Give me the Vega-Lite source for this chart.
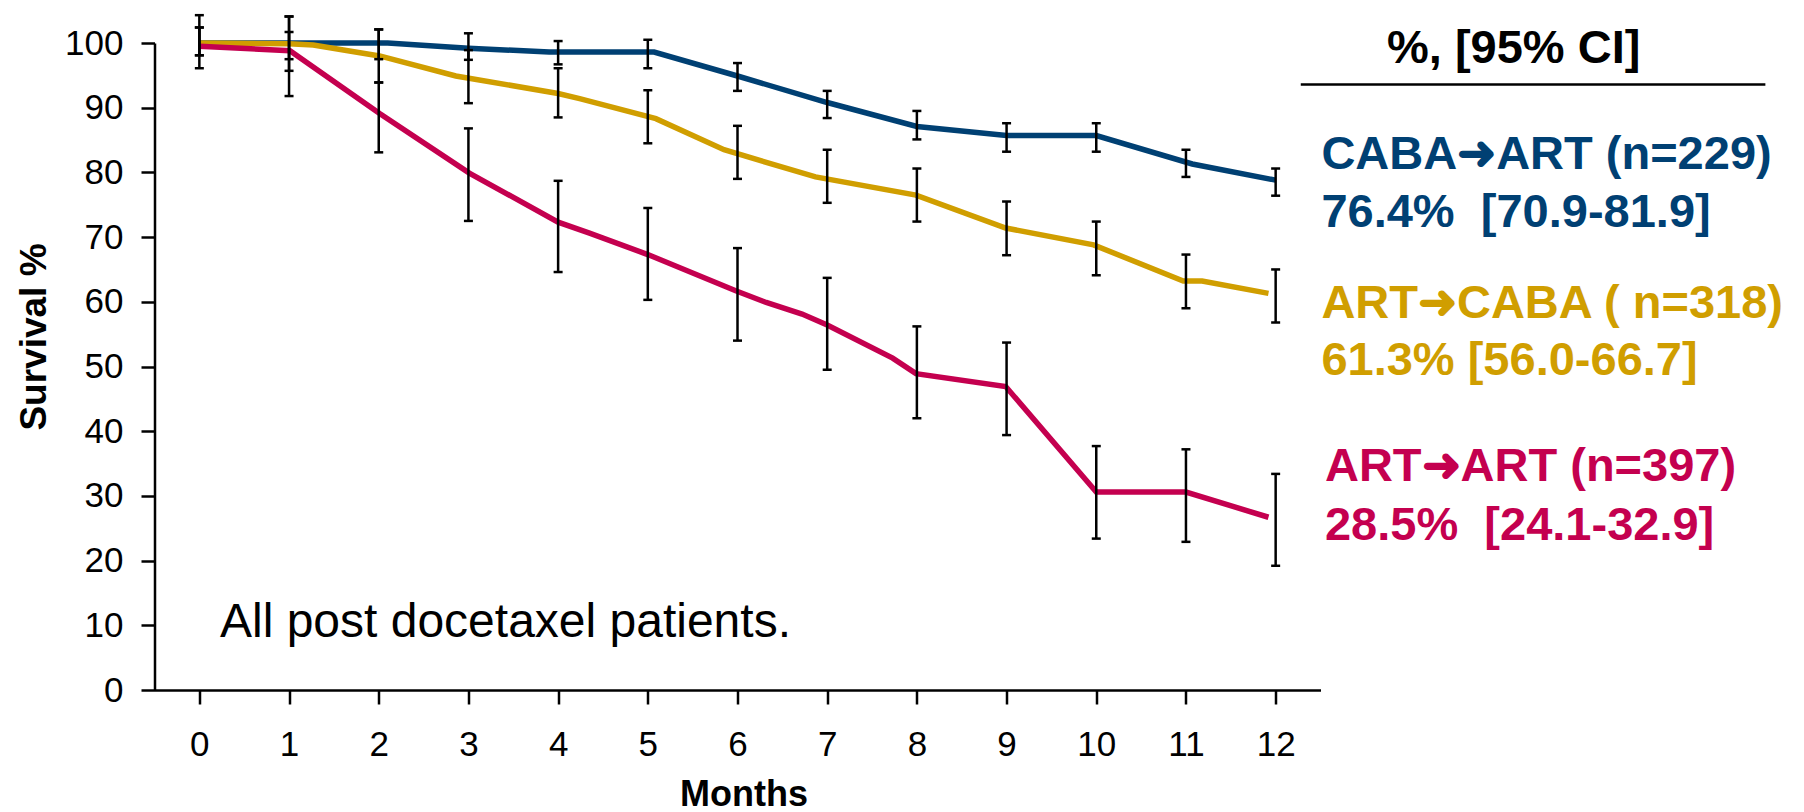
{
  "$schema": "https://vega.github.io/schema/vega-lite/v6.json",
  "width": 1166,
  "height": 647,
  "autosize": {"type": "none"},
  "padding": {"left": 154.5, "top": 43, "right": 483.5, "bottom": 122},
  "background": "white",
  "config": {"view": {"stroke": null}, "font": "Liberation Sans"},
  "datasets": {
    "curves": [
      {"series": "CABA→ART", "month": 0, "pct": 100},
      {"series": "CABA→ART", "month": 1, "pct": 100},
      {"series": "CABA→ART", "month": 2.1, "pct": 100},
      {"series": "CABA→ART", "month": 3, "pct": 99.2},
      {"series": "CABA→ART", "month": 3.9, "pct": 98.6},
      {"series": "CABA→ART", "month": 5.07, "pct": 98.6},
      {"series": "CABA→ART", "month": 6, "pct": 94.9},
      {"series": "CABA→ART", "month": 7, "pct": 90.8},
      {"series": "CABA→ART", "month": 8, "pct": 87.1},
      {"series": "CABA→ART", "month": 9, "pct": 85.7},
      {"series": "CABA→ART", "month": 10, "pct": 85.7},
      {"series": "CABA→ART", "month": 11.07, "pct": 81.3},
      {"series": "CABA→ART", "month": 12, "pct": 78.8},
      {"series": "ART→CABA", "month": 0, "pct": 100},
      {"series": "ART→CABA", "month": 1, "pct": 99.9},
      {"series": "ART→CABA", "month": 1.27, "pct": 99.7},
      {"series": "ART→CABA", "month": 2.01, "pct": 98.0},
      {"series": "ART→CABA", "month": 2.86, "pct": 94.9},
      {"series": "ART→CABA", "month": 4.0, "pct": 92.2},
      {"series": "ART→CABA", "month": 4.24, "pct": 91.4},
      {"series": "ART→CABA", "month": 5.09, "pct": 88.3},
      {"series": "ART→CABA", "month": 5.85, "pct": 83.5},
      {"series": "ART→CABA", "month": 6.87, "pct": 79.3},
      {"series": "ART→CABA", "month": 7.99, "pct": 76.5},
      {"series": "ART→CABA", "month": 8.99, "pct": 71.4},
      {"series": "ART→CABA", "month": 9.97, "pct": 68.8},
      {"series": "ART→CABA", "month": 10.97, "pct": 63.2},
      {"series": "ART→CABA", "month": 11.18, "pct": 63.2},
      {"series": "ART→CABA", "month": 11.92, "pct": 61.3},
      {"series": "ART→ART", "month": 0, "pct": 99.5},
      {"series": "ART→ART", "month": 1.01, "pct": 98.8},
      {"series": "ART→ART", "month": 2.01, "pct": 89.1},
      {"series": "ART→ART", "month": 3.01, "pct": 79.9},
      {"series": "ART→ART", "month": 4.0, "pct": 72.3},
      {"series": "ART→ART", "month": 4.35, "pct": 70.6},
      {"series": "ART→ART", "month": 5.0, "pct": 67.3},
      {"series": "ART→ART", "month": 5.98, "pct": 61.7},
      {"series": "ART→ART", "month": 6.32, "pct": 59.9},
      {"series": "ART→ART", "month": 6.72, "pct": 58.1},
      {"series": "ART→ART", "month": 7.0, "pct": 56.4},
      {"series": "ART→ART", "month": 7.73, "pct": 51.3},
      {"series": "ART→ART", "month": 7.99, "pct": 48.9},
      {"series": "ART→ART", "month": 8.99, "pct": 46.9},
      {"series": "ART→ART", "month": 10, "pct": 30.6},
      {"series": "ART→ART", "month": 11, "pct": 30.6},
      {"series": "ART→ART", "month": 11.92, "pct": 26.7}
    ],
    "ci": [
      {"series": "CABA→ART", "month": 0, "lo": 98.1, "hi": 102.4},
      {"series": "CABA→ART", "month": 1, "lo": 97.5, "hi": 101.7},
      {"series": "CABA→ART", "month": 2, "lo": 97.5, "hi": 102.1},
      {"series": "CABA→ART", "month": 3, "lo": 97.4, "hi": 101.5},
      {"series": "CABA→ART", "month": 4, "lo": 96.7, "hi": 100.3},
      {"series": "CABA→ART", "month": 5, "lo": 96.1, "hi": 100.5},
      {"series": "CABA→ART", "month": 6, "lo": 92.6, "hi": 96.9},
      {"series": "CABA→ART", "month": 7, "lo": 88.4, "hi": 92.6},
      {"series": "CABA→ART", "month": 8, "lo": 85.1, "hi": 89.5},
      {"series": "CABA→ART", "month": 9, "lo": 83.2, "hi": 87.6},
      {"series": "CABA→ART", "month": 10, "lo": 83.2, "hi": 87.6},
      {"series": "CABA→ART", "month": 11, "lo": 79.3, "hi": 83.5},
      {"series": "CABA→ART", "month": 12, "lo": 76.4, "hi": 80.6},
      {"series": "ART→CABA", "month": 0, "lo": 98.1, "hi": 102.4},
      {"series": "ART→CABA", "month": 1, "lo": 95.7, "hi": 104.1},
      {"series": "ART→CABA", "month": 2, "lo": 93.9, "hi": 102.1},
      {"series": "ART→CABA", "month": 3, "lo": 90.7, "hi": 98.9},
      {"series": "ART→CABA", "month": 4, "lo": 88.5, "hi": 96.1},
      {"series": "ART→CABA", "month": 5, "lo": 84.5, "hi": 92.7},
      {"series": "ART→CABA", "month": 6, "lo": 79.0, "hi": 87.2},
      {"series": "ART→CABA", "month": 7, "lo": 75.3, "hi": 83.5},
      {"series": "ART→CABA", "month": 8, "lo": 72.4, "hi": 80.6},
      {"series": "ART→CABA", "month": 9, "lo": 67.2, "hi": 75.5},
      {"series": "ART→CABA", "month": 10, "lo": 64.1, "hi": 72.4},
      {"series": "ART→CABA", "month": 11, "lo": 59.0, "hi": 67.3},
      {"series": "ART→CABA", "month": 12, "lo": 56.8, "hi": 65.0},
      {"series": "ART→ART", "month": 0, "lo": 96.1, "hi": 104.3},
      {"series": "ART→ART", "month": 1, "lo": 91.8, "hi": 104.1},
      {"series": "ART→ART", "month": 2, "lo": 83.1, "hi": 93.9},
      {"series": "ART→ART", "month": 3, "lo": 72.5, "hi": 86.8},
      {"series": "ART→ART", "month": 4, "lo": 64.6, "hi": 78.7},
      {"series": "ART→ART", "month": 5, "lo": 60.3, "hi": 74.5},
      {"series": "ART→ART", "month": 6, "lo": 54.0, "hi": 68.3},
      {"series": "ART→ART", "month": 7, "lo": 49.5, "hi": 63.7},
      {"series": "ART→ART", "month": 8, "lo": 42.0, "hi": 56.2},
      {"series": "ART→ART", "month": 9, "lo": 39.4, "hi": 53.7},
      {"series": "ART→ART", "month": 10, "lo": 23.4, "hi": 37.7},
      {"series": "ART→ART", "month": 11, "lo": 22.9, "hi": 37.2},
      {"series": "ART→ART", "month": 12, "lo": 19.2, "hi": 33.4}
    ]
  },
  "layer": [
    {
      "data": {"name": "curves"},
      "mark": {"type": "line", "strokeWidth": 5.5, "strokeJoin": "miter", "strokeCap": "butt"},
      "encoding": {
        "x": {
          "field": "month", "type": "quantitative",
          "scale": {"domain": [-0.5, 12.5], "nice": false, "zero": false},
          "axis": {
            "values": [0, 1, 2, 3, 4, 5, 6, 7, 8, 9, 10, 11, 12], "format": "d",
            "title": "Months", "grid": false,
            "domainColor": "#000000", "domainWidth": 2.5,
            "tickColor": "#000000", "tickWidth": 2.5, "tickSize": 14,
            "labelFont": "Liberation Sans", "labelFontSize": 35, "labelColor": "#000000",
            "labelPadding": 23, "labelFlush": false,
            "titleFont": "Liberation Sans", "titleFontSize": 36, "titleFontWeight": "bold",
            "titleColor": "#000000", "titleBaseline": "alphabetic", "titleY": 115, "titleX": 589
          }
        },
        "y": {
          "field": "pct", "type": "quantitative",
          "scale": {"domain": [0, 100], "nice": false},
          "axis": {
            "values": [0, 10, 20, 30, 40, 50, 60, 70, 80, 90, 100], "format": "d",
            "title": "Survival %", "grid": false,
            "domainColor": "#000000", "domainWidth": 2.5,
            "tickColor": "#000000", "tickWidth": 2.5, "tickSize": 13.5,
            "labelFont": "Liberation Sans", "labelFontSize": 35, "labelColor": "#000000",
            "labelPadding": 18, "labelFlush": false,
            "titleFont": "Liberation Sans", "titleFontSize": 37, "titleFontWeight": "bold",
            "titleColor": "#000000", "titleAngle": 270, "titleAlign": "center",
            "titleBaseline": "alphabetic", "titleX": -109.5, "titleY": 293.5
          }
        },
        "color": {
          "field": "series", "type": "nominal",
          "scale": {"domain": ["CABA→ART", "ART→CABA", "ART→ART"], "range": ["#004073", "#D09E00", "#C4004F"]},
          "legend": null
        }
      }
    },
    {
      "data": {"name": "ci"},
      "mark": {"type": "rule", "color": "#000000", "strokeWidth": 2.5},
      "encoding": {
        "x": {"field": "month", "type": "quantitative"},
        "y": {"field": "lo", "type": "quantitative"},
        "y2": {"field": "hi"}
      }
    },
    {
      "data": {"name": "ci"},
      "mark": {"type": "tick", "orient": "horizontal", "color": "#000000", "size": 9, "thickness": 2.5, "opacity": 1},
      "encoding": {
        "x": {"field": "month", "type": "quantitative"},
        "y": {"field": "lo", "type": "quantitative"}
      }
    },
    {
      "data": {"name": "ci"},
      "mark": {"type": "tick", "orient": "horizontal", "color": "#000000", "size": 9, "thickness": 2.5, "opacity": 1},
      "encoding": {
        "x": {"field": "month", "type": "quantitative"},
        "y": {"field": "hi", "type": "quantitative"}
      }
    },
    {
      "data": {"values": [{}]},
      "mark": {"type": "text", "text": "All post docetaxel patients.", "align": "left", "baseline": "alphabetic", "font": "Liberation Sans", "fontSize": 48, "color": "#000000"},
      "encoding": {"x": {"datum": 0.23}, "y": {"datum": 8.2}}
    },
    {
      "data": {"values": [{}]},
      "mark": {"type": "text", "text": "%, [95% CI]", "align": "center", "baseline": "alphabetic", "font": "Liberation Sans", "fontSize": 47, "fontWeight": "bold", "color": "#000000"},
      "encoding": {"x": {"datum": 14.654}, "y": {"datum": 96.9}}
    },
    {
      "data": {"values": [{}]},
      "mark": {"type": "rule", "color": "#000000", "strokeWidth": 2.5},
      "encoding": {"x": {"datum": 12.28}, "x2": {"datum": 17.46}, "y": {"datum": 93.6}}
    },
    {
      "data": {"values": [{}]},
      "mark": {"type": "text", "text": "CABA➜ART (n=229)", "align": "left", "baseline": "alphabetic", "font": "Liberation Sans", "fontSize": 47, "fontWeight": "bold", "color": "#004073"},
      "encoding": {"x": {"datum": 12.51}, "y": {"datum": 80.5}}
    },
    {
      "data": {"values": [{}]},
      "mark": {"type": "text", "text": "76.4%\u00a0 [70.9-81.9]", "align": "left", "baseline": "alphabetic", "font": "Liberation Sans", "fontSize": 47, "fontWeight": "bold", "color": "#004073"},
      "encoding": {"x": {"datum": 12.51}, "y": {"datum": 71.6}}
    },
    {
      "data": {"values": [{}]},
      "mark": {"type": "text", "text": "ART➜CABA ( n=318)", "align": "left", "baseline": "alphabetic", "font": "Liberation Sans", "fontSize": 47, "fontWeight": "bold", "color": "#D09E00"},
      "encoding": {"x": {"datum": 12.51}, "y": {"datum": 57.5}}
    },
    {
      "data": {"values": [{}]},
      "mark": {"type": "text", "text": "61.3% [56.0-66.7]", "align": "left", "baseline": "alphabetic", "font": "Liberation Sans", "fontSize": 47, "fontWeight": "bold", "color": "#D09E00"},
      "encoding": {"x": {"datum": 12.51}, "y": {"datum": 48.7}}
    },
    {
      "data": {"values": [{}]},
      "mark": {"type": "text", "text": "ART➜ART (n=397)", "align": "left", "baseline": "alphabetic", "font": "Liberation Sans", "fontSize": 47, "fontWeight": "bold", "color": "#C4004F"},
      "encoding": {"x": {"datum": 12.55}, "y": {"datum": 32.3}}
    },
    {
      "data": {"values": [{}]},
      "mark": {"type": "text", "text": "28.5%\u00a0 [24.1-32.9]", "align": "left", "baseline": "alphabetic", "font": "Liberation Sans", "fontSize": 47, "fontWeight": "bold", "color": "#C4004F"},
      "encoding": {"x": {"datum": 12.55}, "y": {"datum": 23.2}}
    }
  ]
}
